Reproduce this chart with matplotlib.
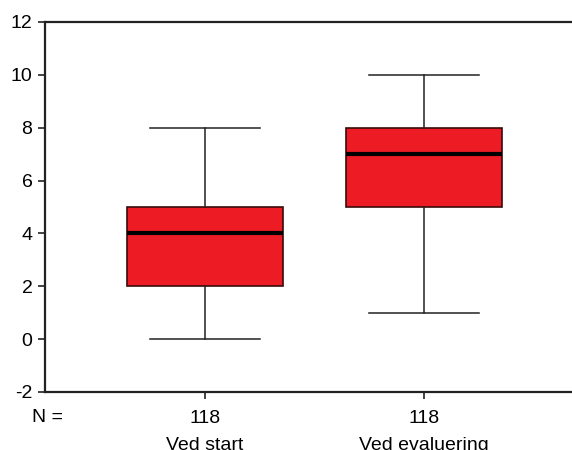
import matplotlib.pyplot as plt
from matplotlib.transforms import blended_transform_factory

plt.rcParams['font.family'] = ['Liberation Sans', 'DejaVu Sans']

groups = ["Ved start", "Ved evaluering"]
n_obs = [118, 118]
whislo = [0, 1]
q1 = [2, 5]
med = [4, 7]
q3 = [5, 8]
whishi = [8, 10]
yticks = [-2, 0, 2, 4, 6, 8, 10, 12]

stats = [dict(label=g, whislo=lo, q1=a, med=m, q3=b, whishi=hi, fliers=[])
         for g, lo, a, m, b, hi in zip(groups, whislo, q1, med, q3, whishi)]

fig = plt.figure(figsize=(5.72, 4.5), dpi=100)
ax = fig.add_axes([45/572, 1-392/450, 1-45/572, (392-22)/450])

ax.bxp(stats, positions=[1, 2], widths=0.71, patch_artist=True,
       boxprops=dict(facecolor="#ed1c24", edgecolor="#3a0a0a", linewidth=1.2),
       medianprops=dict(color="black", linewidth=3.0),
       whiskerprops=dict(color="#222222", linewidth=1.1),
       capprops=dict(color="#222222", linewidth=1.1),
       capwidths=0.505, showfliers=False)

ax.set_ylim(-2, 12)
ax.set_xlim(0.27, 2.676)
ax.set_yticks(yticks)
ax.set_yticklabels([str(t) for t in yticks], fontsize=14)
ax.set_xticks([1, 2])
ax.set_xticklabels([f"{n}\n{g}" for n, g in zip(n_obs, groups)],
                   fontsize=14, linespacing=1.75)
ax.tick_params(axis="both", length=5, width=1.2, color="#222222")
ax.tick_params(axis="x", pad=8)
ax.tick_params(axis="y", pad=4)
ax.spines["right"].set_visible(False)
for s in ["left", "bottom", "top"]:
    ax.spines[s].set_linewidth(1.6)
    ax.spines[s].set_color("#222222")

tr = blended_transform_factory(fig.transFigure, fig.transFigure)
ax.text(32/572, 1-418/450, "N =", transform=tr, fontsize=14, va="center", ha="left")

fig.savefig("out.png", dpi=100)
